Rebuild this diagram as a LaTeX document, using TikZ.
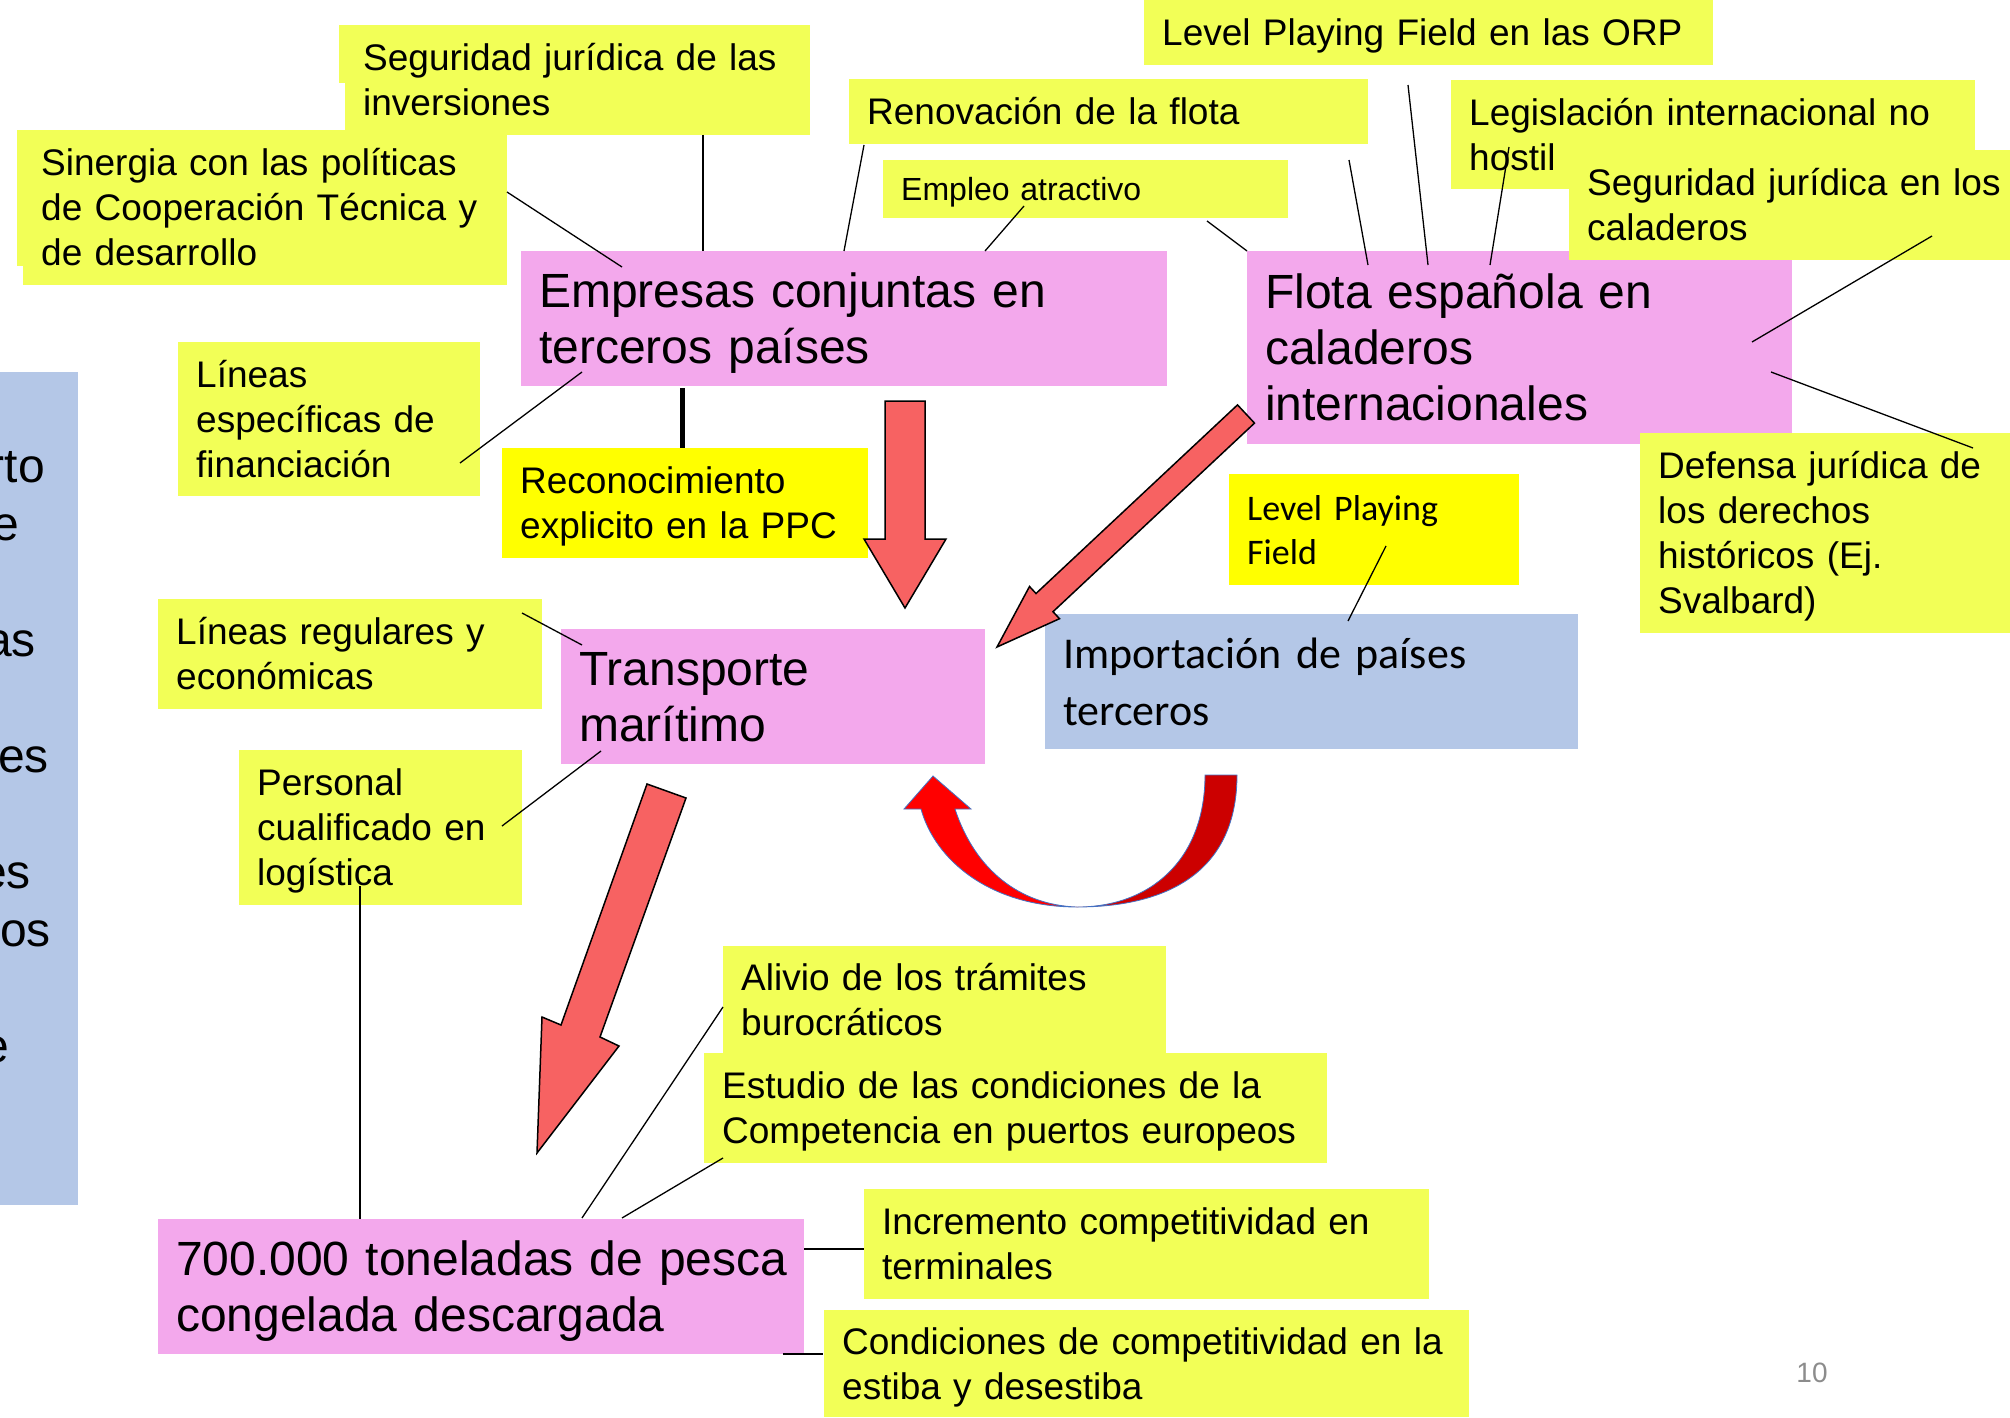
\documentclass[tikz,border=0pt]{standalone}
\usepackage{fontspec}
\setmainfont{Liberation Sans}
\newfontfamily\calfont{Carlito}
\definecolor{ylw}{RGB}{242,255,87}
\definecolor{bylw}{RGB}{255,255,0}
\definecolor{pnk}{RGB}{243,168,236}
\definecolor{blu}{RGB}{180,199,231}
\definecolor{arr}{RGB}{247,98,98}
\definecolor{ured}{RGB}{255,0,0}
\definecolor{dred}{RGB}{204,0,0}
\definecolor{uedge}{RGB}{68,114,196}
\definecolor{pgnum}{RGB}{140,140,140}
\newcommand\linestrut{\rule[-0.212em]{0pt}{1.117em}}
\begin{document}
\begin{tikzpicture}[x=1pt,y=-1pt,
  every node/.style={inner sep=0pt},
  box/.style={anchor=north west, inner xsep=18pt, inner ysep=0pt, align=left},
  strutted/.style={execute at begin node={\linestrut}, execute at end node={\linestrut}},
  ytxt/.style={box, strutted, fill=ylw, font=\fontsize{37}{45}\selectfont},
  btxt/.style={box, strutted, fill=bylw, font=\fontsize{37}{45}\selectfont},
  ptxt/.style={box, strutted, fill=pnk, font=\fontsize{48}{56}\selectfont},
  frag/.style={anchor=base east, font=\fontsize{48}{58}\selectfont},
  conn/.style={draw=black, line width=1.3pt},
  blockarrow/.style={fill=arr, draw=black, line width=1.5pt, line join=miter},
]
\useasboundingbox (0,0) rectangle (2010,1418);

% left blue box with cut text
\node[fill=blu, anchor=north west, minimum width=88pt, minimum height=833pt] (leftbox) at (-10,372) {};
\node[frag] (fa) at (45,482) {rto};
\node[frag] (fb) at (19,540) {e};
\node[frag] (fc) at (36,656) {as};
\node[frag] (fd) at (49,772) {es};
\node[frag] (fe) at (31,888) {es};
\node[frag] (ff) at (51,946) {ros};
\node[frag] (fg) at (9,1062) {e};

% pink boxes
\node[ptxt, minimum width=646pt, text width=610pt, minimum height=135pt] (empresas) at (521,251) {Empresas conjuntas en\\terceros países};
\node[ptxt, minimum width=545pt, text width=509pt, minimum height=193pt] (flota) at (1247,251) {Flota española en\\caladeros\\internacionales};
\node[ptxt, minimum width=424pt, text width=388pt, minimum height=135pt] (transporte) at (561,629) {Transporte\\marítimo};
\node[ptxt, minimum width=646pt, text width=610pt, minimum height=135pt] (pesca) at (158,1219) {\mbox{700.000 toneladas de pesca}\\congelada descargada};
\node[box, fill=blu, font=\calfont\fontsize{44}{57}\selectfont, minimum width=533pt, text width=497pt, minimum height=135pt] (importacion) at (1045,614) {Importación de países\\terceros};

% yellow boxes
\node[ytxt, minimum width=465pt, text width=429pt, minimum height=110pt] (seginv) at (345,25) {Seguridad jurídica de las\\inversiones};
\fill[ylw] (339,25) rectangle (346,83);
\node[ytxt, minimum width=484pt, text width=448pt, minimum height=155pt] (sinergia) at (23,130) {Sinergia con las políticas\\de Cooperación Técnica y\\de desarrollo};
\fill[ylw] (17,130) rectangle (24,266);
\node[ytxt, minimum width=519pt, text width=483pt, minimum height=65pt] (renov) at (849,79) {Renovación de la flota};
\node[ytxt, font=\fontsize{32}{38}\selectfont, minimum width=405pt, text width=369pt, minimum height=58pt] (empleo) at (883,160) {Empleo atractivo};
\node[ytxt, minimum width=569pt, text width=533pt, minimum height=65pt] (lpforp) at (1144,0) {Level Playing Field en las ORP};
\node[ytxt, minimum width=524pt, text width=488pt, minimum height=109pt] (legis) at (1451,80) {Legislación internacional no\\hostil};
\node[ytxt, minimum width=471pt, text width=435pt, minimum height=110pt] (segcal) at (1569,150) {Seguridad jurídica en los\\caladeros};
\node[ytxt, minimum width=400pt, text width=364pt, minimum height=200pt] (defensa) at (1640,433) {Defensa jurídica de\\los derechos\\históricos (Ej.\\Svalbard)};
\node[ytxt, minimum width=302pt, text width=266pt, minimum height=154pt] (linfin) at (178,342) {Líneas\\específicas de\\financiación};
\node[btxt, minimum width=362pt, text width=330pt, minimum height=110pt] (reconoc) at (502,448) {Reconocimiento\\explicito en la PPC};
\node[box, fill=bylw, font=\calfont\fontsize{36}{44}\selectfont, minimum width=290pt, text width=254pt, minimum height=111pt] (lpf) at (1229,474) {Level Playing\\Field};
\node[ytxt, minimum width=384pt, text width=348pt, minimum height=110pt] (linreg) at (158,599) {Líneas regulares y\\económicas};
\node[ytxt, minimum width=283pt, text width=247pt, minimum height=155pt] (personal) at (239,750) {Personal\\cualificado en\\logística};
\node[ytxt, minimum width=443pt, text width=407pt, minimum height=107pt] (alivio) at (723,946) {Alivio de los trámites\\burocráticos};
\node[ytxt, minimum width=623pt, text width=587pt, minimum height=110pt] (estudio) at (704,1053) {Estudio de las condiciones de la\\Competencia en puertos europeos};
\node[ytxt, minimum width=565pt, text width=529pt, minimum height=110pt] (increm) at (864,1189) {Incremento competitividad en\\terminales};
\node[ytxt, minimum width=645pt, text width=609pt, minimum height=107pt] (condic) at (824,1310) {\mbox{Condiciones de competitividad en la}\\estiba y desestiba};

% connector end points
\coordinate (c1a) at (507,192);  \coordinate (c1b) at (622,267);
\coordinate (c2a) at (703,135);  \coordinate (c2b) at (703,251);
\coordinate (c3a) at (864,145);  \coordinate (c3b) at (844,251);
\coordinate (c4a) at (1024,206); \coordinate (c4b) at (985,251);
\coordinate (c5a) at (1207,221); \coordinate (c5b) at (1247,251);
\coordinate (c6a) at (1349,160); \coordinate (c6b) at (1368,265);
\coordinate (c7a) at (1408,85);  \coordinate (c7b) at (1428,265);
\coordinate (c8a) at (1509,147); \coordinate (c8b) at (1490,265);
\coordinate (c9a) at (1932,236); \coordinate (c9b) at (1752,342);
\coordinate (c10a) at (1771,372); \coordinate (c10b) at (1973,448);
\coordinate (c11a) at (460,463); \coordinate (c11b) at (582,372);
\coordinate (c12a) at (682,388); \coordinate (c12b) at (682,448);
\coordinate (c13a) at (522,613); \coordinate (c13b) at (582,645);
\coordinate (c14a) at (502,826); \coordinate (c14b) at (601,751);
\coordinate (c15a) at (360,886); \coordinate (c15b) at (360,1219);
\coordinate (c16a) at (723,1007); \coordinate (c16b) at (582,1218);
\coordinate (c17a) at (723,1158); \coordinate (c17b) at (622,1218);
\coordinate (c18a) at (804,1249); \coordinate (c18b) at (864,1249);
\coordinate (c19a) at (783,1354); \coordinate (c19b) at (823,1354);
\coordinate (c20a) at (1386,546); \coordinate (c20b) at (1348,621);

\draw[conn] (c1a) -- (c1b);
\draw[conn] (c2a) -- (c2b);
\draw[conn] (c3a) -- (c3b);
\draw[conn] (c4a) -- (c4b);
\draw[conn] (c5a) -- (c5b);
\draw[conn] (c6a) -- (c6b);
\draw[conn] (c7a) -- (c7b);
\draw[conn] (c8a) -- (c8b);
\draw[conn] (c9a) -- (c9b);
\draw[conn] (c10a) -- (c10b);
\draw[conn] (c11a) -- (c11b);
\draw[conn, line width=5pt] (c12a) -- (c12b);
\draw[conn] (c13a) -- (c13b);
\draw[conn] (c14a) -- (c14b);
\draw[conn] (c15a) -- (c15b);
\draw[conn] (c16a) -- (c16b);
\draw[conn] (c17a) -- (c17b);
\draw[conn, line width=2.5pt] (c18a) -- (c18b);
\draw[conn, line width=2.5pt] (c19a) -- (c19b);
\draw[conn] (c20a) -- (c20b);

% block arrows
\path[blockarrow] (885,401) -- (925,401) -- (925,539) -- (946,539) -- (905,608) -- (864,539) -- (885,539) -- cycle;
\path[blockarrow] (1237.5,404.9) -- (1254.5,423.1) -- (1053,611.7) -- (1059.5,618.7) -- (997,647) -- (1029.5,586.5) -- (1036,593.5) -- cycle;
\path[blockarrow] (647,784) -- (686,798) -- (600,1037) -- (619,1046) -- (537,1153) -- (542,1017) -- (561,1025) -- cycle;

% curved U arrow
\path[fill=dred, draw=uedge, line width=0.8pt] (1205,775) -- (1237,775) .. controls (1237,870) and (1170,907) .. (1077,907) .. controls (1150,907) and (1205,860) .. (1205,775) -- cycle;
\path[fill=ured, draw=uedge, line width=0.8pt] (1077,907) .. controls (990,907) and (935,860) .. (921,809) -- (904,809) -- (933,776) -- (971,809) -- (955,809) .. controls (975,870) and (1020,905) .. (1077,907) -- cycle;

% page number
\node[font=\fontsize{28}{30}\selectfont, text=pgnum] (pagenum) at (1812,1373) {10};
\end{tikzpicture}
\end{document}
